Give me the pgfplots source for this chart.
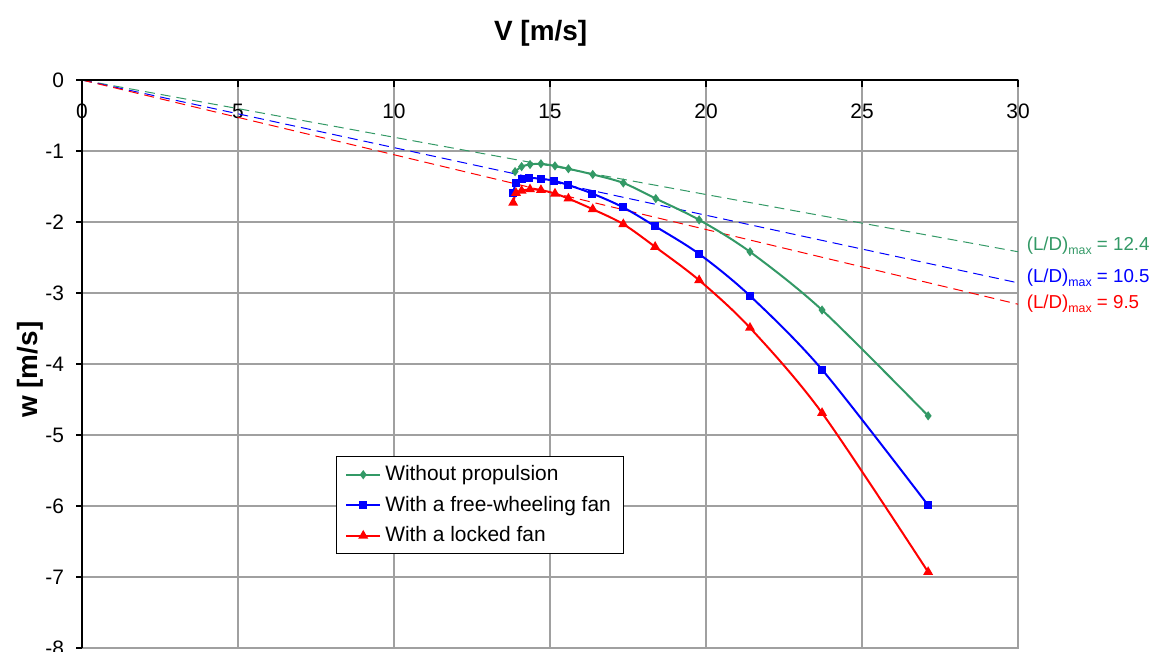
\documentclass[border=0pt]{standalone}
\usepackage{pgfplots}
\pgfplotsset{compat=1.18}
\usepackage{fontspec}
\setmainfont{Liberation Sans}
\definecolor{cgreen}{RGB}{51,153,102}
\definecolor{cblue}{RGB}{0,0,255}
\definecolor{cred}{RGB}{255,0,0}
\definecolor{cgrid}{RGB}{160,160,160}
\newcommand{\fs}{\fontsize{10.5}{12.6}\selectfont}
\newcommand{\fl}{\fontsize{9.4}{11}\selectfont}
\newcommand{\mx}{\raisebox{-2bp}{\fontsize{6.2}{7}\selectfont max}}
\begin{document}
\begin{tikzpicture}
\begin{axis}[
 name=ax, scale only axis, width=468bp, height=284bp,
 xmin=0, xmax=30, ymin=-8, ymax=0, clip=false,
 xtick={0,5,10,15,20,25,30}, xticklabels={0,5,10,15,20,25,30},
 ytick={-8,-7,-6,-5,-4,-3,-2,-1,0}, yticklabels={-8,-7,-6,-5,-4,-3,-2,-1,0},
 major tick length=0pt,
 grid=major, major grid style={cgrid, line width=0.6bp},
 axis line style={cgrid, line width=0.6bp},
 xticklabel pos=right,
 every tick label/.append style={font=\fs},
 xticklabel style={anchor=north, yshift=-8.5bp},
 yticklabel style={anchor=east, xshift=-5.5bp},
 xlabel={\textbf{V [m/s]}},
 xlabel style={at={(axis description cs:0.49,1.0704)}, anchor=base, font=\fontsize{14}{16}\selectfont},
 ylabel={\textbf{w [m/s]}},
 ylabel style={at={(axis description cs:-0.0556,0.49)}, anchor=center, font=\fontsize{14}{16}\selectfont},
 legend style={at={(0.271,0.338)}, anchor=north west, draw=black, line width=0.6bp, font=\fs, row sep=2.2bp, inner xsep=4.5bp, inner ysep=2.5bp},
 legend cell align=left,
]
\addplot[cgreen, line width=0.5bp, dash pattern=on 5bp off 3bp, forget plot] coordinates {(0,0) (30,-2.419)};
\addplot[cblue, line width=0.5bp, dash pattern=on 5bp off 3bp, forget plot] coordinates {(0,0) (30,-2.857)};
\addplot[cred, line width=0.5bp, dash pattern=on 5bp off 3bp, forget plot] coordinates {(0,0) (30,-3.158)};

\addplot[cgreen, line width=1bp, smooth, tension=0.5, mark=diamond*, mark size=1.5bp, mark options={solid}] coordinates {
(13.88,-1.29) (14.09,-1.22) (14.36,-1.19) (14.71,-1.18) (15.16,-1.21) (15.59,-1.25)
(16.37,-1.33) (17.35,-1.45) (18.39,-1.67) (19.78,-1.97) (21.41,-2.42) (23.72,-3.24) (27.12,-4.73)};
\addlegendentry{Without propulsion}
\addplot[cblue, line width=1bp, smooth, tension=0.5, mark=square*, mark size=1.5bp, mark options={solid}] coordinates {
(13.82,-1.59) (13.91,-1.45) (14.11,-1.39) (14.34,-1.38) (14.71,-1.39) (15.13,-1.42) (15.59,-1.48)
(16.36,-1.60) (17.33,-1.79) (18.37,-2.06) (19.78,-2.45) (21.41,-3.04) (23.72,-4.08) (27.12,-5.99)};
\addlegendentry{With a free-wheeling fan}
\addplot[cred, line width=1bp, smooth, tension=0.5, mark=triangle*, mark size=1.9bp, mark options={solid}] coordinates {
(13.82,-1.73) (13.91,-1.59) (14.09,-1.56) (14.36,-1.54) (14.71,-1.55) (15.16,-1.60) (15.59,-1.67)
(16.37,-1.82) (17.35,-2.03) (18.37,-2.35) (19.78,-2.82) (21.41,-3.49) (23.72,-4.69) (27.12,-6.93)};
\addlegendentry{With a locked fan}

\draw[black, line width=1bp] (axis cs:0,-8) -- (axis cs:0,0) -- (axis cs:30,0);
\pgfplotsinvokeforeach{0,5,10,15,20,25,30}{\draw[black, line width=0.8bp] (axis cs:#1,0) -- ([yshift=-3.5bp]axis cs:#1,0);}
\pgfplotsinvokeforeach{-8,-7,-6,-5,-4,-3,-2,-1,0}{\draw[black, line width=0.8bp] (axis cs:0,#1) -- ([xshift=-3bp]axis cs:0,#1);}

\node[anchor=west, text=cgreen, font=\fl, inner sep=0pt] at (axis cs:30.27,-2.34) {(L/D)\mx\ = 12.4};
\node[anchor=west, text=cblue, font=\fl, inner sep=0pt] at (axis cs:30.27,-2.79) {(L/D)\mx\ = 10.5};
\node[anchor=west, text=cred, font=\fl, inner sep=0pt] at (axis cs:30.27,-3.15) {(L/D)\mx\ = 9.5};
\end{axis}
\pgfresetboundingbox
\path[use as bounding box] ([xshift=-41bp,yshift=-2bp]ax.south west) rectangle ([xshift=535bp,yshift=324bp]ax.south west);
\end{tikzpicture}
\end{document}
